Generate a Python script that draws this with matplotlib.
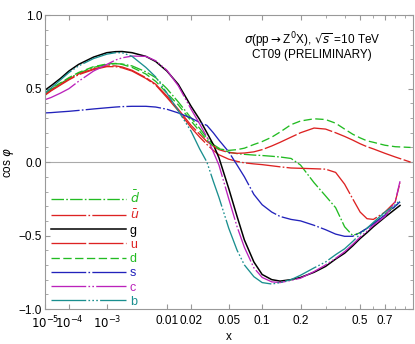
import numpy as np
import matplotlib
matplotlib.use('Agg')
from matplotlib import pyplot as plt

plt.rcParams['font.family'] = ['Liberation Sans', 'DejaVu Sans']
plt.rcParams['mathtext.fontset'] = 'dejavusans'
plt.rcParams['lines.scale_dashes'] = False

# momentum fraction grid
x = [1e-5, 2e-5, 5e-5, 1e-4, 2e-4, 5e-4, 1e-3, 1.5e-3, 2e-3, 3e-3, 5e-3, 7e-3,
     0.01, 0.014, 0.02, 0.025, 0.03, 0.035, 0.04, 0.05, 0.06, 0.07, 0.085,
     0.1, 0.12, 0.14, 0.17, 0.2, 0.25, 0.3, 0.35, 0.4, 0.45, 0.5, 0.55, 0.6,
     0.7, 0.8, 0.85]
x_long = x[:-1] + [0.97]

dbar = [0.465, 0.495, 0.535, 0.57, 0.605, 0.645, 0.665, 0.67, 0.668, 0.655, 0.615, 0.575,
        0.50, 0.41, 0.30, 0.23, 0.165, 0.12, 0.095, 0.068, 0.058, 0.053, 0.048,
        0.045, 0.04, 0.035, 0.025, -0.02, -0.14, -0.23, -0.31, -0.44, -0.50, -0.48, -0.45, -0.42,
        -0.355, -0.30, -0.27]
ubar = [0.455, 0.485, 0.525, 0.56, 0.595, 0.63, 0.65, 0.65, 0.642, 0.62, 0.57, 0.525,
        0.44, 0.35, 0.235, 0.17, 0.12, 0.08, 0.05, 0.02, 0.005, -0.005, -0.012,
        -0.017, -0.025, -0.032, -0.04, -0.042, -0.045, -0.048, -0.07, -0.15, -0.25, -0.34, -0.385, -0.39,
        -0.34, -0.27, -0.14]
g = [0.49, 0.52, 0.57, 0.62, 0.665, 0.715, 0.745, 0.752, 0.753, 0.745, 0.72, 0.685,
     0.62, 0.53, 0.38, 0.29, 0.20, 0.12, 0.03, -0.18, -0.37, -0.53, -0.68,
     -0.765, -0.80, -0.81, -0.80, -0.785, -0.75, -0.71, -0.66, -0.62, -0.57, -0.52, -0.48, -0.44,
     -0.375, -0.32, -0.295]
u = [0.46, 0.49, 0.53, 0.565, 0.60, 0.635, 0.655, 0.655, 0.648, 0.625, 0.575, 0.53,
     0.45, 0.36, 0.25, 0.19, 0.14, 0.11, 0.085, 0.065, 0.06, 0.062, 0.07,
     0.085, 0.11, 0.135, 0.17, 0.20, 0.232, 0.225, 0.20, 0.175, 0.15, 0.125, 0.105, 0.09,
     0.06, 0.035, 0.0]
d = [0.47, 0.50, 0.54, 0.575, 0.61, 0.65, 0.668, 0.672, 0.665, 0.645, 0.60, 0.55,
     0.47, 0.39, 0.28, 0.21, 0.15, 0.11, 0.09, 0.08, 0.085, 0.095, 0.12,
     0.14, 0.17, 0.205, 0.255, 0.28, 0.295, 0.29, 0.265, 0.225, 0.19, 0.165, 0.145, 0.135,
     0.115, 0.105, 0.10]
s = [0.335, 0.337, 0.342, 0.346, 0.352, 0.362, 0.37, 0.375, 0.378, 0.38, 0.38, 0.375,
     0.36, 0.335, 0.30, 0.27, 0.25, 0.20, 0.15, 0.07, -0.02, -0.10, -0.22,
     -0.29, -0.34, -0.37, -0.39, -0.40, -0.43, -0.46, -0.49, -0.505, -0.505, -0.48, -0.45, -0.42,
     -0.36, -0.30, -0.27]
c = [0.425, 0.44, 0.47, 0.50, 0.55, 0.62, 0.665, 0.695, 0.71, 0.722, 0.72, 0.69,
     0.625, 0.52, 0.36, 0.26, 0.17, 0.07, -0.02, -0.25, -0.44, -0.58, -0.72,
     -0.785, -0.815, -0.82, -0.805, -0.79, -0.745, -0.70, -0.655, -0.61, -0.56, -0.51, -0.47, -0.43,
     -0.37, -0.27, -0.13]
b = [0.47, 0.505, 0.56, 0.61, 0.655, 0.705, 0.735, 0.745, 0.745, 0.72, 0.645, 0.58,
     0.47, 0.35, 0.21, 0.09, 0.0, -0.13, -0.24, -0.45, -0.60, -0.70, -0.78,
     -0.82, -0.83, -0.82, -0.80, -0.77, -0.72, -0.68, -0.63, -0.59, -0.54, -0.49, -0.45, -0.41,
     -0.34, -0.29, -0.26]

labels = [r'$\bar{d}$', r'$\bar{u}$', 'g', 'u', 'd', 's', 'c', 'b']
xmajor = [1e-5, 1e-4, 1e-3, 0.01, 0.02, 0.05, 0.1, 0.2, 0.5, 0.7]
xmajor_lab = [r'$10^{-5}$', r'$10^{-4}$', r'$10^{-3}$', '0.01', '0.02', '0.05', '0.1', '0.2', '0.5', '0.7']
xminor = [0.3, 0.4, 0.6, 0.8, 0.9]

green = '#22bb22'
red = '#dd2222'
blue = '#2222bb'
mag = '#bb22bb'
teal = '#1a8f8f'

dd = (0, (9, 1.6, 1.2, 1.6))
ld = (0, (25, 1.6, 1.2, 1.6))
ldd = (0, (25, 1.6, 1.2, 1.6, 1.2, 1.6))
lddd = (0, (25, 1.6, 1.2, 1.6, 1.2, 1.6, 1.2, 1.6))

fig = plt.figure(figsize=(4.15, 3.44), dpi=100)
ax = fig.add_axes([0.1084, 0.1017, 0.887, 0.854])
ax.set_xscale('function', functions=(lambda v: np.power(np.clip(v, 1e-12, None), 0.2),
                                     lambda v: np.power(np.clip(v, 0, None), 5.0)))

lw = 0.95
ax.axhline(0, color='#aaaaaa', lw=0.8, zorder=0)
ax.plot(x, dbar, color=green, lw=lw, linestyle=dd, label=labels[0])
ax.plot(x, ubar, color=red, lw=lw, linestyle=ld, label=labels[1])
ax.plot(x, g, color='black', lw=lw+0.15, linestyle='-', label=labels[2])
ax.plot(x_long, u, color=red, lw=lw, linestyle=(0, (25, 1.8)), label=labels[3])
ax.plot(x_long, d, color=green, lw=lw, linestyle=(0, (6, 2.5)), label=labels[4])
ax.plot(x, s, color=blue, lw=lw, linestyle=ld, label=labels[5])
ax.plot(x, c, color=mag, lw=lw, linestyle=ldd, label=labels[6])
ax.plot(x, b, color=teal, lw=lw, linestyle=lddd, label=labels[7])

ax.set_xlim(1e-5, 1.0)
ax.set_ylim(-1.0, 1.0)
ax.set_xticks(xmajor)
ax.set_xticklabels(xmajor_lab)
ax.set_xticks(xminor, minor=True)
ax.set_yticks([-1.0, -0.5, 0.0, 0.5, 1.0])
ax.set_yticklabels(['\u22121.0', '\u22120.5', '0.0', '0.5', '1.0'])
ax.set_yticks(np.arange(-0.9, 1.0, 0.1), minor=True)
ax.tick_params(which='both', direction='in', top=True, right=True, color='#999999',
               labelsize=8.5, pad=2)
ax.tick_params(axis='x', which='major', pad=4)
ax.tick_params(which='major', length=3.5)
ax.tick_params(which='minor', length=2)
for sp in ax.spines.values():
    sp.set_color('#999999')
    sp.set_linewidth(0.8)

ax.set_xlabel('x', fontsize=8.5, labelpad=0)
ax.set_ylabel(r'cos $\varphi$', fontsize=8.5, labelpad=2)

ax.text(0.725, 0.915, r'$\sigma$(pp$\rightarrow$Z$^0$X), $\sqrt{s}$ =10 TeV', transform=ax.transAxes,
        ha='center', va='center', fontsize=8.5)
ax.text(0.725, 0.864, 'CT09 (PRELIMINARY)', transform=ax.transAxes,
        ha='center', va='center', fontsize=8.5)

leg = ax.legend(loc='lower left', bbox_to_anchor=(0.013, 0.0), frameon=False,
                fontsize=9, handlelength=6.0, handletextpad=0.3, labelspacing=0.18,
                borderpad=0.05, borderaxespad=0.05, labelcolor='linecolor')

fig.savefig('out.png', dpi=100)
